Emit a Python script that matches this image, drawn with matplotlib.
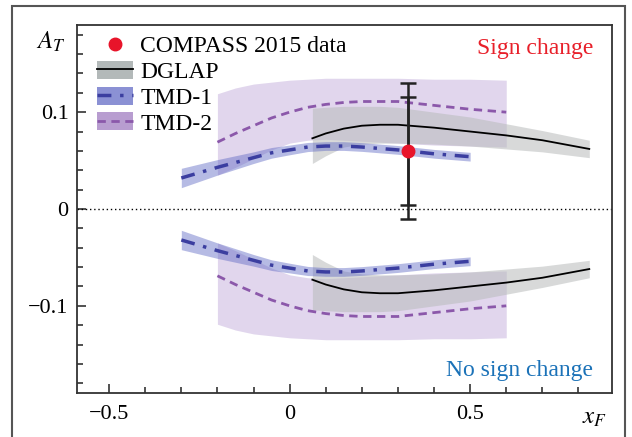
import matplotlib
matplotlib.use("Agg")
import matplotlib.pyplot as plt
import numpy as np
from matplotlib.lines import Line2D
from matplotlib.patches import Patch, Rectangle

plt.rcParams['font.family'] = ['Liberation Serif', 'DejaVu Serif']
plt.rcParams['mathtext.fontset'] = 'stix'

# Curves (upper half; lower half is the mirror image)
dglap_x = [0.063, 0.1, 0.15, 0.2, 0.25, 0.3, 0.4, 0.5, 0.6, 0.7, 0.83]
dglap_y = [0.073, 0.078, 0.083, 0.086, 0.087, 0.087, 0.084, 0.080, 0.076, 0.071, 0.062]
dglap_hi = [0.104, 0.105, 0.106, 0.106, 0.106, 0.105, 0.100, 0.095, 0.088, 0.081, 0.071]
dglap_lo = [0.047, 0.055, 0.064, 0.067, 0.068, 0.068, 0.067, 0.065, 0.062, 0.059, 0.053]

tmd1_x = [-0.3, -0.2, -0.1, -0.05, 0.0, 0.05, 0.1, 0.15, 0.2, 0.3, 0.4, 0.5]
tmd1_y = [0.032, 0.043, 0.053, 0.058, 0.061, 0.064, 0.065, 0.065, 0.064, 0.061, 0.057, 0.054]
tmd1_err = [0.010, 0.008, 0.006, 0.0055, 0.005, 0.0047, 0.0045, 0.0045, 0.0045, 0.0045, 0.0045, 0.0045]

tmd2_x = [-0.2, -0.15, -0.1, -0.05, 0.0, 0.05, 0.1, 0.15, 0.2, 0.3, 0.4, 0.5, 0.6]
tmd2_y = [0.069, 0.078, 0.086, 0.094, 0.100, 0.105, 0.108, 0.110, 0.111, 0.111, 0.107, 0.103, 0.100]
tmd2_hi = [0.119, 0.125, 0.129, 0.131, 0.133, 0.134, 0.135, 0.135, 0.135, 0.135, 0.134, 0.134, 0.133]
tmd2_lo = [0.035, 0.043, 0.052, 0.061, 0.068, 0.071, 0.072, 0.071, 0.070, 0.068, 0.066, 0.065, 0.064]

# COMPASS point
pt_x = 0.327
pt_y = 0.060
pt_stat = 0.056
pt_tot = 0.070

blue_band = '#5f68c4'
purple_band = '#b49ad2'
blue_line = '#3b3ea0'
purple_line = '#8b58aa'

fig = plt.figure(figsize=(6.32, 4.37), dpi=100)
ax = fig.add_axes([0.1218, 0.1007, 0.8466, 0.8421])

# outer frame
fig.patches.append(Rectangle((0.019, -0.2), 0.970, 1.186, transform=fig.transFigure,
                             fill=False, edgecolor='#555555', lw=1.5))

for s in [1, -1]:
    ax.fill_between(tmd2_x, s * np.array(tmd2_lo), s * np.array(tmd2_hi),
                    color=purple_band, alpha=0.4, lw=0)
    ax.fill_between(dglap_x, s * np.array(dglap_lo), s * np.array(dglap_hi),
                    color='#b8bbbb', alpha=0.55, lw=0)
    ax.fill_between(tmd1_x, s * (np.array(tmd1_y) - tmd1_err), s * (np.array(tmd1_y) + tmd1_err),
                    color=blue_band, alpha=0.45, lw=0)
    ax.plot(tmd2_x, s * np.array(tmd2_y), color=purple_line, lw=2, dashes=(3, 2))
    ax.plot(dglap_x, s * np.array(dglap_y), color='black', lw=1.3)
    ax.plot(tmd1_x, s * np.array(tmd1_y), color=blue_line, lw=2.5, dashes=(4, 2.5, 1, 2.5))

ax.axhline(0, color='black', lw=1, ls=(0, (1, 2)))

ax.errorbar([pt_x], [pt_y], yerr=[pt_tot], fmt='none', ecolor='#222222', elinewidth=1.8,
            capsize=6, capthick=1.8)
ax.errorbar([pt_x], [pt_y], yerr=[pt_stat], fmt='none', ecolor='#222222', elinewidth=1.8,
            capsize=6, capthick=1.8)
ax.plot([pt_x], [pt_y], 'o', color='#e8142a', ms=9, zorder=5)

ax.set_xlim(-0.589, 0.893)
ax.set_ylim(-0.19, 0.19)
ax.set_xticks([-0.5, 0, 0.5])
ax.set_xticklabels(['\u22120.5', '0', '0.5'])
ax.set_xticks(np.arange(-0.5, 0.85, 0.1), minor=True)
ax.set_yticks([-0.1, 0, 0.1])
ax.set_yticklabels(['\u22120.1', '0', '0.1'])
ax.set_yticks(np.arange(-0.18, 0.19, 0.02), minor=True)
ax.tick_params(which='both', direction='in', top=False, right=False, colors='#333333',
               labelcolor='black', labelsize=16, width=1.2)
ax.tick_params(which='major', length=6.5)
ax.tick_params(which='minor', length=4.3)
ax.tick_params(axis='x', pad=9)
ax.tick_params(axis='y', pad=6)
for sp in ax.spines.values():
    sp.set_color('#333333')
    sp.set_linewidth(1.3)

ax.text(-0.049, 0.955, r'$A_T$', transform=ax.transAxes, fontsize=18, ha='center', va='center')
ax.text(0.968, -0.068, r'$x_F$', transform=ax.transAxes, fontsize=18, ha='center', va='center')
ax.text(0.965, 0.935, 'Sign change', transform=ax.transAxes, fontsize=17, color='#e8202a',
        ha='right', va='center')
ax.text(0.965, 0.06, 'No sign change', transform=ax.transAxes, fontsize=17, color='#1b72b8',
        ha='right', va='center')

handles = [
    Line2D([], [], marker='o', color='#e8142a', ls='none', ms=9),
    (Patch(color='#b3b9b9', lw=0), Line2D([], [], color='black', lw=1.3)),
    (Patch(color='#8b91d4', lw=0), Line2D([], [], color=blue_line, lw=2.5, dashes=(4, 2.5, 1, 2.5))),
    (Patch(color='#b89dd0', lw=0), Line2D([], [], color=purple_line, lw=2, dashes=(3, 2))),
]
labels = ['COMPASS 2015 data', 'DGLAP', 'TMD-1', 'TMD-2']
ax.legend(handles, labels, loc='upper left', frameon=False, fontsize=17,
          handlelength=1.55, handleheight=0.8, handletextpad=0.3, labelspacing=0.15,
          borderaxespad=0.1, bbox_to_anchor=(0.015, 1.005))

fig.savefig('out.png', dpi=100)
